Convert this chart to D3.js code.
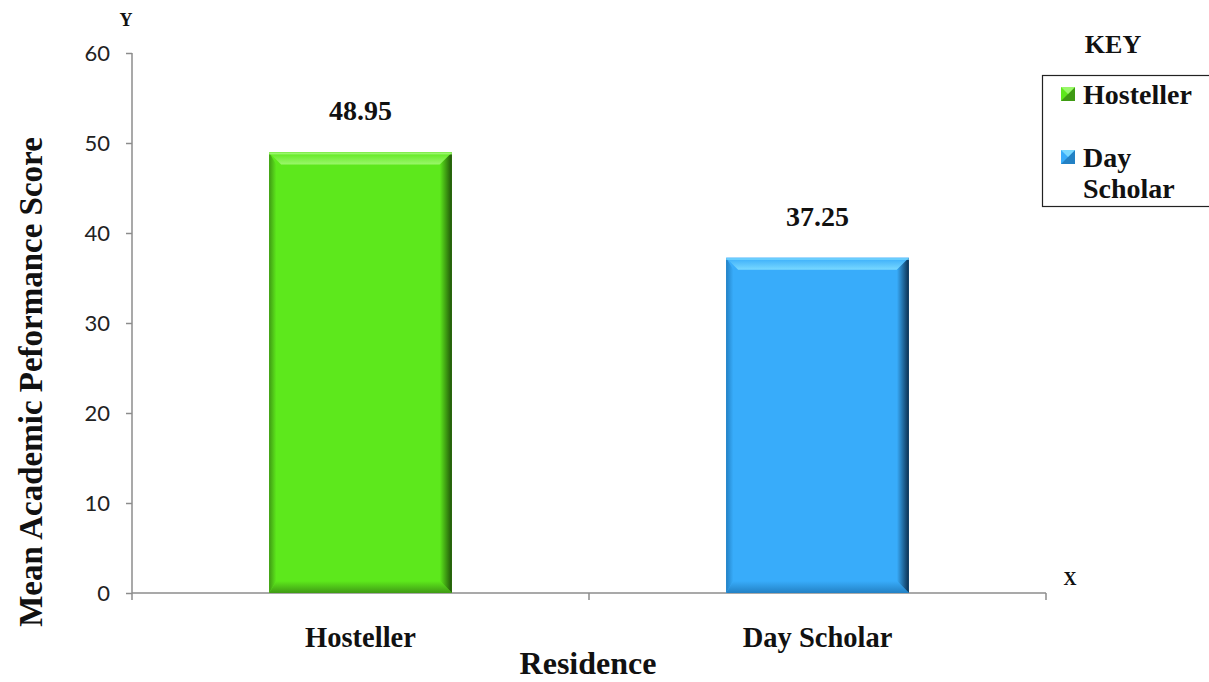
<!DOCTYPE html>
<html>
<head>
<meta charset="utf-8">
<title>Mean Academic Performance Score by Residence</title>
<script src="https://d3js.org/d3.v7.min.js"></script>
<style>
  body { margin: 0; background: #fff; }
  .serif { font-family: "Liberation Serif", "Times New Roman", serif; font-weight: bold; fill: #111; }
  .tick text { font-family: Lato, "Open Sans", sans-serif; font-size: 22px; fill: #222; }
</style>
</head>
<body>
<svg id="chart" width="1209" height="682"></svg>
<script>
var categories = ["Hosteller", "Day Scholar"];
var values = [48.95, 37.25];
var yTicks = [0, 10, 20, 30, 40, 50, 60];
var legendLabels = [["Hosteller"], ["Day", "Scholar"]];

var colors = [
  { main: "#5de81c", light: "#9af76a", dark: "#1f5208", bottom: "#3f9a14" },
  { main: "#38acfa", light: "#78d8ff", dark: "#0b2f4f", bottom: "#2381c4" }
];

var svg = d3.select("#chart");
var plotL = 132, plotR = 1046, plotT = 53, plotB = 593;

var x = d3.scaleBand().domain(categories).range([plotL, plotR]);
var y = d3.scaleLinear().domain([0, 60]).range([plotB, plotT]);

// gradients for the bevel faces
var defs = svg.append("defs");
colors.forEach(function (col, i) {
  function grad(id, x1, y1, x2, y2, c1, c2) {
    var gr = defs.append("linearGradient").attr("id", id + i)
      .attr("x1", x1).attr("y1", y1).attr("x2", x2).attr("y2", y2);
    gr.append("stop").attr("offset", "0%").attr("stop-color", c1);
    gr.append("stop").attr("offset", "100%").attr("stop-color", c2);
  }
  grad("top", 0, 0, 0, 1, col.main, col.light);
  grad("right", 0, 0, 1, 0, col.main, col.dark);
  grad("bottom", 0, 0, 0, 1, col.main, col.bottom);
  grad("left", 0, 0, 1, 0, col.bottom, col.main);
});

// y axis
var yAxis = d3.axisLeft(y).tickValues(yTicks).tickSize(6).tickPadding(16);
var gy = svg.append("g").attr("transform", "translate(" + plotL + ",0)").call(yAxis);
gy.select(".domain").attr("stroke", "#8c8c8c").attr("stroke-width", 1.5).attr("d", "M0," + y(60) + "V" + y(0));
gy.selectAll(".tick line").attr("stroke", "#8c8c8c").attr("stroke-width", 1.5);

// x axis
svg.append("line").attr("x1", plotL).attr("x2", plotR).attr("y1", y(0)).attr("y2", y(0))
  .attr("stroke", "#8c8c8c").attr("stroke-width", 1.5);
var xTicks = [plotL].concat(categories.slice(1).map(function (c) { return x(c); })).concat([plotR]);
svg.selectAll(".xt").data(xTicks).enter().append("line")
  .attr("x1", function (d) { return d; }).attr("x2", function (d) { return d; })
  .attr("y1", y(0)).attr("y2", y(0) + 7)
  .attr("stroke", "#8c8c8c").attr("stroke-width", 1.5);

// bars with bevel
var bw = x.bandwidth() * 0.4, bev = 12;
categories.forEach(function (c, i) {
  var x0 = x(c) + x.bandwidth() / 2 - bw / 2, x1 = x0 + bw;
  var y0 = y(values[i]), y1 = y(0);
  var col = colors[i];
  var g = svg.append("g");
  g.append("rect").attr("x", x0).attr("y", y0).attr("width", bw).attr("height", y1 - y0).attr("fill", col.main);
  function poly(pts, fill) {
    g.append("polygon").attr("points", pts.map(function (p) { return p.join(","); }).join(" ")).attr("fill", fill);
  }
  poly([[x0, y0], [x1, y0], [x1 - bev, y0 + bev], [x0 + bev, y0 + bev]], "url(#top" + i + ")");
  poly([[x0, y0], [x0 + bev * 0.6, y0 + bev], [x0 + bev * 0.6, y1 - bev], [x0, y1]], "url(#left" + i + ")");
  poly([[x1, y0], [x1, y1], [x1 - bev, y1 - bev], [x1 - bev, y0 + bev]], "url(#right" + i + ")");
  poly([[x0, y1], [x1, y1], [x1 - bev, y1 - bev], [x0 + bev * 0.6, y1 - bev]], "url(#bottom" + i + ")");
  g.append("rect").attr("x", x0).attr("y", y0 + 0.5).attr("width", bw).attr("height", 1.5).attr("fill", col.light);

  svg.append("text").attr("class", "serif").attr("x", x(c) + x.bandwidth() / 2).attr("y", y0 - 32)
    .attr("text-anchor", "middle").attr("font-size", 28).text(values[i].toFixed(2));
  svg.append("text").attr("class", "serif").attr("x", x(c) + x.bandwidth() / 2).attr("y", 647)
    .attr("text-anchor", "middle").attr("font-size", 28.5).text(c);
});

// axis titles
svg.append("text").attr("class", "serif").attr("x", 588).attr("y", 674)
  .attr("text-anchor", "middle").attr("font-size", 32).text("Residence");
svg.append("text").attr("class", "serif").attr("transform", "translate(42,382) rotate(-90)")
  .attr("text-anchor", "middle").attr("font-size", 33).text("Mean Academic Peformance Score");
svg.append("text").attr("class", "serif").attr("x", 126).attr("y", 26)
  .attr("text-anchor", "middle").attr("font-size", 18).text("Y");
svg.append("text").attr("class", "serif").attr("x", 1070).attr("y", 585)
  .attr("text-anchor", "middle").attr("font-size", 18).text("X");

// legend
svg.append("text").attr("class", "serif").attr("x", 1113).attr("y", 53)
  .attr("text-anchor", "middle").attr("font-size", 26).text("KEY");
svg.append("rect").attr("x", 1042.5).attr("y", 75.5).attr("width", 190).attr("height", 131)
  .attr("fill", "#fff").attr("stroke", "#222").attr("stroke-width", 1.2);
var ly = [95, 158];
legendLabels.forEach(function (lab, i) {
  var col = colors[i];
  var sx = 1061, sy = ly[i] - 8, s = 14;
  var lg = svg.append("g");
  lg.append("rect").attr("x", sx).attr("y", sy).attr("width", s).attr("height", s).attr("fill", col.main);
  lg.append("polygon").attr("points", [[sx + s, sy], [sx + s, sy + s], [sx, sy + s]].join(" ")).attr("fill", col.bottom);
  lg.append("polygon").attr("points", [[sx, sy], [sx + s, sy], [sx + s / 2, sy + s / 2]].join(" ")).attr("fill", col.light);
  var t = svg.append("text").attr("class", "serif").attr("font-size", 28).attr("x", 1083).attr("y", ly[i] + 9);
  lab.forEach(function (l, j) {
    t.append("tspan").attr("x", 1083).attr("dy", j === 0 ? 0 : 31).text(l);
  });
});
</script>
</body>
</html>
